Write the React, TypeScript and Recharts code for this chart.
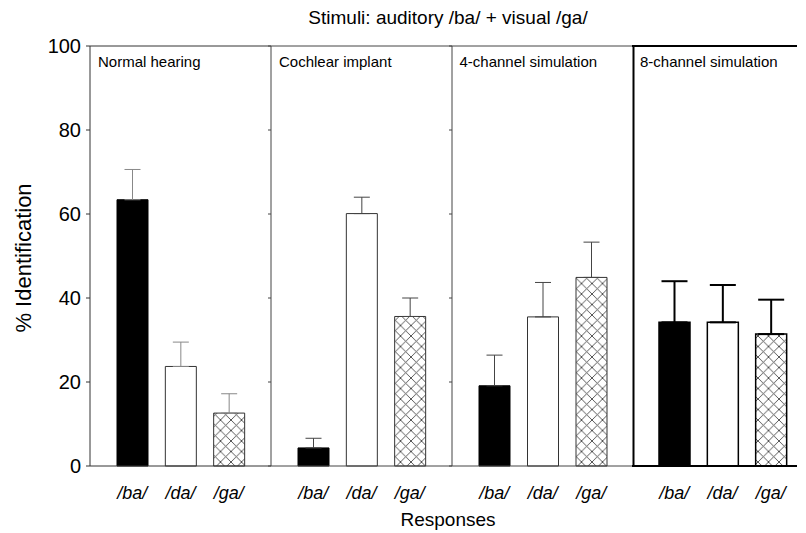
import React from "react";
import { BarChart, Bar, XAxis, YAxis, ErrorBar, Cell, ReferenceLine } from "recharts";

// response categories and panel titles
const responses = ["/ba/", "/da/", "/ga/"];
const panelNames = ["Normal hearing", "Cochlear implant", "4-channel simulation", "8-channel simulation"];

// % identification (mean) and upper error per panel
const normalHearing = [63.4, 23.7, 12.6];
const normalHearingErr = [7.2, 5.8, 4.6];
const cochlearImplant = [4.3, 60.1, 35.6];
const cochlearImplantErr = [2.3, 3.9, 4.4];
const fourChannel = [19.1, 35.5, 44.9];
const fourChannelErr = [7.3, 8.2, 8.4];
const eightChannel = [34.2, 34.2, 31.4];
const eightChannelErr = [9.8, 8.9, 8.2];

const yTicks = [0, 20, 40, 60, 80, 100];

const panelValues = [normalHearing, cochlearImplant, fourChannel, eightChannel];
const panelErrors = [normalHearingErr, cochlearImplantErr, fourChannelErr, eightChannelErr];

const FONT = "'Liberation Sans', Arial, Helvetica, sans-serif";
const W = 806;
const H = 533;
const PLOT_TOP = 46;
const PLOT_H = 420;
const X_AXIS_H = 30;
const PANEL_X = [90, 271, 451.5, 632];
// last panel runs off the figure's right edge, so it's cut short (same band width)
const PANEL_W = [181, 181, 180.5, 165];
const PAD_R = [18, 18, 18, 2];

// per-panel line styling (last panel is drawn heavier in the original)
const styles = [
  { line: "#333", lineW: 1, err: "#888", errW: 1, cap: 8, bar: "#333", barW: 1 },
  { line: "#444", lineW: 1, err: "#444", errW: 1, cap: 8, bar: "#333", barW: 1 },
  { line: "#444", lineW: 1, err: "#444", errW: 1, cap: 8, bar: "#333", barW: 1 },
  { line: "#000", lineW: 2, err: "#000", errW: 2, cap: 13, bar: "#000", barW: 1.5 },
];

const fills = ["#000", "#fff", "url(#crosshatch)"];

function Panel({ idx }: { idx: number }) {
  const first = idx === 0;
  const last = idx === 3;
  // the heavy divider in front of the last panel is drawn as a right axis of panel 3
  const rightDivider = idx === 2;
  const yw = first ? 90 : last ? 0 : 1;
  const ml = first || last ? 0 : 6;
  const rightW = rightDivider ? 1 : 0;
  const mr = rightDivider ? 3 : 0;
  const st = styles[idx];
  const data = responses.map((name, i) => ({
    name,
    value: panelValues[idx][i],
    err: [0, panelErrors[idx][i]],
  }));

  return (
    <div style={{ position: "absolute", left: PANEL_X[idx] - yw - ml, top: 0 }}>
      <BarChart
        width={yw + ml + PANEL_W[idx] + rightW + mr}
        height={H}
        data={data}
        margin={{ top: PLOT_TOP, right: mr, bottom: H - PLOT_TOP - PLOT_H - X_AXIS_H, left: ml }}
      >
        <XAxis
          dataKey="name"
          type="category"
          interval={0}
          height={X_AXIS_H}
          padding={{ left: 18, right: PAD_R[idx] }}
          tickLine={false}
          axisLine={{ stroke: st.line, strokeWidth: st.lineW }}
          tickMargin={14}
          tick={{ fontSize: 18, fill: "#000", fontStyle: "italic", fontFamily: FONT }}
        />
        <YAxis
          type="number"
          domain={[0, 100]}
          ticks={yTicks}
          width={yw}
          hide={last}
          tickSize={first ? 4 : 3}
          tickMargin={first ? 5 : 0}
          tickFormatter={first ? undefined : () => ""}
          axisLine={{ stroke: st.line, strokeWidth: st.lineW }}
          tickLine={{ stroke: st.line }}
          tick={{ fontSize: 20, fill: "#000", fontFamily: FONT }}
        />
        {rightDivider && (
          <YAxis
            yAxisId="divider"
            orientation="right"
            mirror
            type="number"
            domain={[0, 100]}
            ticks={yTicks}
            width={1}
            tickSize={3}
            tickFormatter={() => ""}
            axisLine={{ stroke: styles[3].line, strokeWidth: styles[3].lineW }}
            tickLine={{ stroke: styles[3].line }}
          />
        )}
        <ReferenceLine y={100} stroke={st.line} strokeWidth={st.lineW} />
        <Bar dataKey="value" barSize={31} isAnimationActive={false}>
          {data.map((d, i) => (
            <Cell key={d.name} fill={fills[i]} stroke={i === 0 ? "#000" : st.bar} strokeWidth={st.barW} />
          ))}
          <ErrorBar dataKey="err" direction="y" width={st.cap} stroke={st.err} strokeWidth={st.errW} />
        </Bar>
      </BarChart>
    </div>
  );
}

export default function App() {
  return (
    <div
      style={{
        position: "absolute",
        left: 0,
        top: 0,
        width: W,
        height: H,
        overflow: "hidden",
        background: "#fff",
        fontFamily: FONT,
      }}
    >
      <svg width={0} height={0} style={{ position: "absolute" }}>
        <defs>
          <pattern id="crosshatch" width={10.5} height={10.5} patternUnits="userSpaceOnUse">
            <rect width={10.5} height={10.5} fill="#fff" />
            <path d="M0,0 L10.5,10.5 M10.5,0 L0,10.5" stroke="#444" strokeWidth={0.9} />
          </pattern>
        </defs>
      </svg>

      {panelNames.map((_, i) => (
        <Panel key={i} idx={i} />
      ))}

      <svg width={W} height={H} style={{ position: "absolute", left: 0, top: 0, pointerEvents: "none" }}>
        <text x={448} y={24} textAnchor="middle" fontSize={19} fontFamily={FONT} fill="#000">
          Stimuli: auditory /ba/ + visual /ga/
        </text>
        <text
          x={0}
          y={0}
          transform="translate(31,258) rotate(-90)"
          textAnchor="middle"
          fontSize={22}
          fontFamily={FONT}
          fill="#000"
        >
          % Identification
        </text>
        <text x={448} y={526} textAnchor="middle" fontSize={19} fontFamily={FONT} fill="#000">
          Responses
        </text>
        {panelNames.map((name, i) => (
          <text key={name} x={PANEL_X[i] + 8} y={67} fontSize={15} fontFamily={FONT} fill="#000">
            {name}
          </text>
        ))}
      </svg>
    </div>
  );
}
